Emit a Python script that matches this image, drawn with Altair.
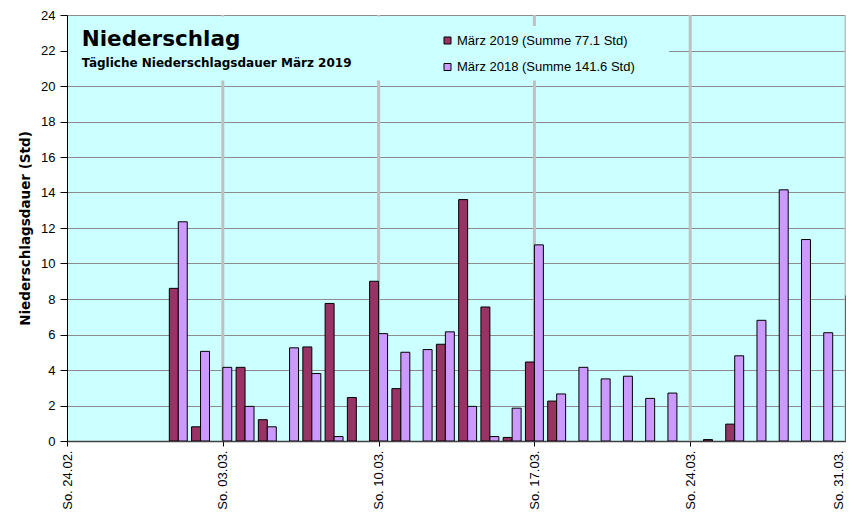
import altair as alt
import pandas as pd

# ---- data ----
day_labels = ["24.02.", "25.02.", "26.02.", "27.02.", "28.02.",
              "01.03.", "02.03.", "03.03.", "04.03.", "05.03.", "06.03.", "07.03.",
              "08.03.", "09.03.", "10.03.", "11.03.", "12.03.", "13.03.", "14.03.",
              "15.03.", "16.03.", "17.03.", "18.03.", "19.03.", "20.03.", "21.03.",
              "22.03.", "23.03.", "24.03.", "25.03.", "26.03.", "27.03.", "28.03.",
              "29.03.", "30.03.", "31.03."]

maerz_2019 = [0, 0, 0, 0, 0,
              8.6, 0.8, 0, 4.15, 1.2, 0, 5.3,
              7.75, 2.45, 9.0, 2.95, 0, 5.45, 13.6,
              7.55, 0.2, 4.45, 2.25, 0, 0, 0,
              0, 0, 0, 0.08, 0.95, 0, 0,
              0, 0, 0]

maerz_2018 = [0, 0, 0, 0, 0,
              12.35, 5.05, 4.15, 1.95, 0.8, 5.25, 3.8,
              0.25, 0, 6.05, 5.0, 5.15, 6.15, 1.95,
              0.25, 1.85, 11.05, 2.65, 4.15, 3.5, 3.65,
              2.4, 2.7, 0, 0, 4.8, 6.8, 14.15,
              11.35, 6.1, 8.2]

series_names = ["März 2019 (Summe 77.1 Std)", "März 2018 (Summe 141.6 Std)"]
series_colors = ["#993366", "#CC99FF"]

tick_days = [0, 7, 14, 21, 28, 35]
tick_labels = ["So. 24.02.", "So. 03.03.", "So. 10.03.", "So. 17.03.", "So. 24.03.", "So. 31.03."]
week_days = [7, 14, 21, 28, 35]
y_ticks = list(range(0, 25, 2))

title_text = "Niederschlag"
subtitle_text = "Tägliche Niederschlagsdauer März 2019"
y_title = "Niederschlagsdauer (Std)"

# ---- build table ----
rows = []
for i, lab in enumerate(day_labels):
    rows.append({"day": i, "datum": lab, "series": series_names[0], "sidx": 0, "value": maerz_2019[i]})
    rows.append({"day": i, "datum": lab, "series": series_names[1], "sidx": 1, "value": maerz_2018[i]})
df = pd.DataFrame(rows)

BW = 0.403  # bar width in day units

label_expr = "[" + ",".join("'" + t + "'" for t in tick_labels) + "][round(datum.value / 7)]"

xscale = alt.Scale(domain=[0, 35], nice=False, zero=False, padding=0)
yscale = alt.Scale(domain=[0, 24], nice=False, padding=0)

bars = alt.Chart(df).transform_filter("datum.value > 0").transform_calculate(
    x0=f"datum.sidx == 0 ? datum.day - {BW} : datum.day",
    base="0",
).transform_calculate(
    x1=f"datum.x0 + {BW}"
).mark_bar(stroke="black", strokeWidth=1, clip=True).encode(
    x=alt.X("x0:Q", scale=xscale,
            axis=alt.Axis(values=tick_days, labelExpr=label_expr, labelAngle=270,
                          title=None, grid=False, tickSize=5, tickColor="black",
                          domainColor="#404040", domainWidth=1.5, labelPadding=4,
                          labelFontSize=13,
                          labelOffset={"condition": {"test": "datum.value == 35", "value": -8},
                                       "value": 0})),
    x2="x1:Q",
    y=alt.Y("value:Q", scale=yscale,
            axis=alt.Axis(values=y_ticks, title=y_title, grid=True, gridColor="#8c8c8c",
                          gridWidth=1.2, tickSize=7, tickColor="black", domainColor="black",
                          labelPadding=5, titlePadding=8, titleFont="DejaVu Sans",
                          titleFontSize=13.5, titleFontWeight="bold", titleColor="black")),
    y2="base:Q",
    color=alt.Color("series:N",
                    scale=alt.Scale(domain=series_names, range=series_colors),
                    legend=alt.Legend(title=None, orient="none", legendX=374, legendY=19,
                                      symbolType="square", symbolSize=49,
                                      symbolStrokeColor="black", symbolStrokeWidth=1,
                                      labelFont="Liberation Sans", labelFontSize=13,
                                      labelColor="black", labelOffset=3, rowPadding=12.5,
                                      labelLimit=0, padding=0)),
)

weeks = alt.Chart(pd.DataFrame({"day": week_days})).mark_rule(
    color="#C0C0C0", strokeWidth=3
).encode(x=alt.X("day:Q", scale=xscale))

cover = alt.Chart(pd.DataFrame({"k": [0]})).mark_rect(color="#CCFFFF").encode(
    x=alt.value(1), x2=alt.value(335), y=alt.value(1.5), y2=alt.value(65.5)
)
cover2 = alt.Chart(pd.DataFrame({"k": [0]})).mark_rect(color="#CCFFFF").encode(
    x=alt.value(335), x2=alt.value(602), y=alt.value(11), y2=alt.value(65.5)
)

title = alt.Chart(pd.DataFrame({"t": [title_text]})).mark_text(
    font="DejaVu Sans", fontSize=21.5, fontWeight="bold", align="left",
    baseline="alphabetic", color="black"
).encode(x=alt.value(14.7), y=alt.value(30.7), text="t:N")

subtitle = alt.Chart(pd.DataFrame({"t": [subtitle_text]})).mark_text(
    font="DejaVu Sans", fontSize=12, fontWeight="bold", align="left",
    baseline="alphabetic", color="black"
).encode(x=alt.value(14.7), y=alt.value(52), text="t:N")

chart = alt.layer(weeks, cover, cover2, bars, title, subtitle).properties(
    width=779, height=426,
    autosize=alt.AutoSizeParams(type="none"),
    padding={"left": 59, "top": 7, "right": 0, "bottom": 68},
    background="white",
).configure_view(
    fill="#CCFFFF", stroke=None
).configure_axis(
    labelFont="Liberation Sans", labelFontSize=13, labelColor="black"
)

chart.save("out.html", embed_options={"renderer": "svg", "actions": False})
